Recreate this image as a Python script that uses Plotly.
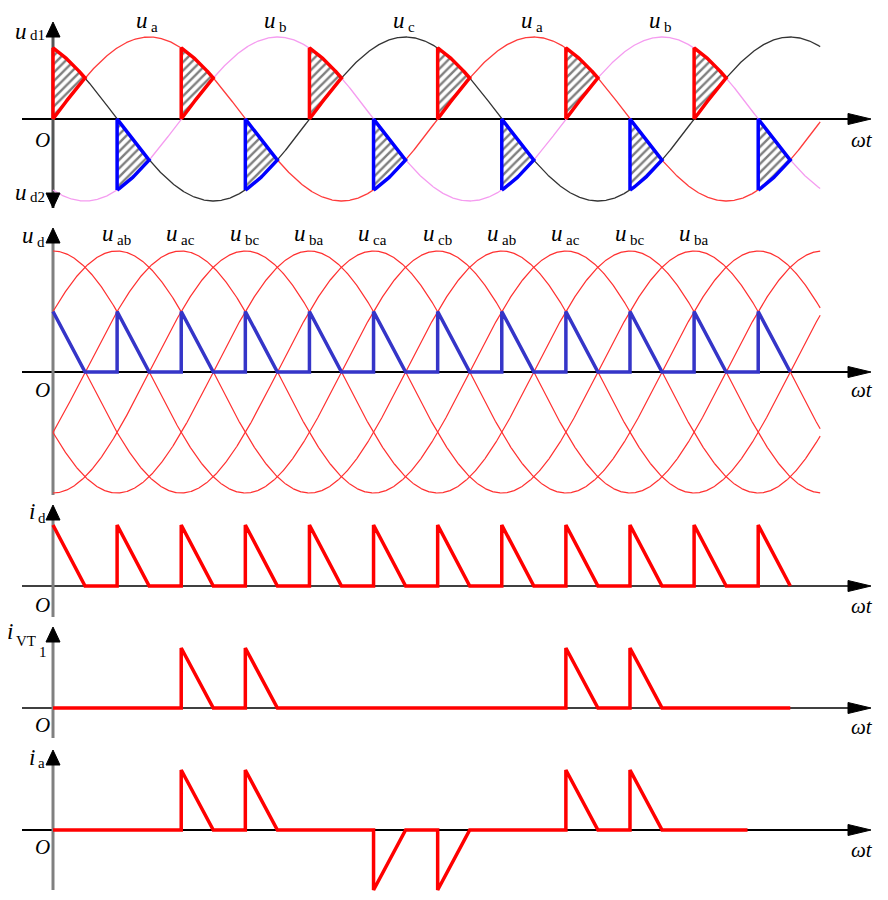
import numpy as np
import plotly.graph_objects as go

# ---------------- data ----------------
WT_START, WT_END = 0, 718           # degrees covered by the sine curves

# phase voltages (top panel):  u = sin(wt + offset)
phase_names = ["a", "b", "c"]
phase_offsets = [0, -120, 120]
top_label_names = ["a", "b", "c", "a", "b"]
top_label_wt = [90, 210, 330, 450, 570]

# hatched conduction areas in the top panel (30 degrees wide)
pos_area_start = [0, 120, 240, 360, 480, 600]
pos_area_upper = ["c", "a", "b", "c", "a", "b"]
pos_area_lower = ["a", "b", "c", "a", "b", "c"]
neg_area_start = [60, 180, 300, 420, 540, 660]
neg_area_upper = ["c", "a", "b", "c", "a", "b"]
neg_area_lower = ["b", "c", "a", "b", "c", "a"]
area_width = 30

# line voltages (second panel), normalised: u = sin(wt + 90 - peak)
line_names = ["ab", "ac", "bc", "ba", "ca", "cb"]
line_peaks = [60, 120, 180, 240, 300, 360]
mid_label_names = ["ab", "ac", "bc", "ba", "ca", "cb", "ab", "ac", "bc", "ba"]
mid_label_wt = [60, 120, 180, 240, 300, 360, 420, 480, 540, 600]

# output voltage u_d (relative to line-voltage amplitude)
ud_wt = [0, 30, 60, 60, 90, 120, 120, 150, 180, 180, 210, 240, 240, 270, 300, 300,
         330, 360, 360, 390, 420, 420, 450, 480, 480, 510, 540, 540, 570, 600, 600,
         630, 660, 660, 690]
ud_val = [0.5, 0, 0, 0.5, 0, 0, 0.5, 0, 0, 0.5, 0, 0, 0.5, 0, 0, 0.5,
          0, 0, 0.5, 0, 0, 0.5, 0, 0, 0.5, 0, 0, 0.5, 0, 0, 0.5,
          0, 0, 0.5, 0]

# load current i_d
id_wt = ud_wt
id_val = [1, 0, 0, 1, 0, 0, 1, 0, 0, 1, 0, 0, 1, 0, 0, 1,
          0, 0, 1, 0, 0, 1, 0, 0, 1, 0, 0, 1, 0, 0, 1,
          0, 0, 1, 0]

# thyristor current i_VT1
ivt_wt = [0, 120, 120, 150, 180, 180, 210, 480, 480, 510, 540, 540, 570, 690]
ivt_val = [0, 0, 1, 0, 0, 1, 0, 0, 1, 0, 0, 1, 0, 0]

# phase current i_a
ia_wt = [0, 120, 120, 150, 180, 180, 210, 300, 300, 330, 360, 360, 390,
         480, 480, 510, 540, 540, 570, 650]
ia_val = [0, 0, 1, 0, 0, 1, 0, 0, -1, 0, 0, -1, 0,
          0, 1, 0, 0, 1, 0, 0]

# ---------------- geometry / style ----------------
OFF = 8                   # page body margin
W, H = 888 - OFF, 900 - OFF
K = 1.0685                # px per degree
X0 = 53                   # screen pixel of wt = 0

def px_wt(px):
    return (px - X0) / K

# panels in screen px: (top, bottom, zero line, px per unit)
panels = [(8, 218, 119, 82), (218, 498, 372, 121), (498, 620, 586, 61),
          (620, 742, 708, 60), (742, 900, 830, 60)]

def px_val(i, py):
    t, b, z, s = panels[i]
    return (z - py) / s

def yp(py):
    return 1 - (py - OFF) / H

def xp(px):
    return (px - OFF) / W

phase_colors = {"a": "#ff3b3b", "b": "#f59cf0", "c": "#333333"}
SERIF = "Liberation Serif, Times New Roman, serif"

fig = go.Figure()
wt = np.linspace(WT_START, WT_END, 1437)
rad = np.pi / 180

def phase(name, x):
    return np.sin((np.asarray(x) + phase_offsets[phase_names.index(name)]) * rad)

# top panel sines
for n in phase_names:
    fig.add_trace(go.Scatter(x=wt, y=phase(n, wt), mode="lines",
                             line=dict(color=phase_colors[n], width=1.3), yaxis="y"))

def area(start, up, lo, color):
    xs = np.linspace(start, start + area_width, 40)
    px = np.concatenate([[start], xs, xs[::-1]])
    py = np.concatenate([[phase(lo, start)], phase(up, xs), phase(lo, xs[::-1])])
    fig.add_trace(go.Scatter(x=px, y=py, mode="lines", fill="toself",
                             fillcolor="white",
                             fillpattern=dict(shape="/", size=6, solidity=0.4,
                                              fgcolor="black", bgcolor="white"),
                             line=dict(color=color, width=3.5), yaxis="y"))

for s, u, l in zip(pos_area_start, pos_area_upper, pos_area_lower):
    area(s, u, l, "#ff0000")
for s, u, l in zip(neg_area_start, neg_area_upper, neg_area_lower):
    area(s, u, l, "#0000ff")

# second panel
for n, p in zip(line_names, line_peaks):
    fig.add_trace(go.Scatter(x=wt, y=np.sin((wt + 90 - p) * rad), mode="lines",
                             line=dict(color="#ff3030", width=1.2), yaxis="y2"))
fig.add_trace(go.Scatter(x=ud_wt, y=ud_val, mode="lines",
                         line=dict(color="#3535c8", width=3.5), yaxis="y2"))

fig.add_trace(go.Scatter(x=id_wt, y=id_val, mode="lines",
                         line=dict(color="#ff0000", width=3.5), yaxis="y3"))
fig.add_trace(go.Scatter(x=ivt_wt, y=ivt_val, mode="lines",
                         line=dict(color="#ff0000", width=3.5), yaxis="y4"))
fig.add_trace(go.Scatter(x=ia_wt, y=ia_val, mode="lines",
                         line=dict(color="#ff0000", width=3.5), yaxis="y5"))

# ---------------- axes decorations ----------------
shapes = []
vert_extent = [(22, 208), (228, 495), (505, 617), (627, 738), (750, 890)]
hwidth = [2, 2, 1.6, 1.6, 2]
for i in range(5):
    yref = "y" if i == 0 else f"y{i+1}"
    shapes.append(dict(type="line", xref="x", yref=yref, x0=px_wt(22), x1=px_wt(850),
                       y0=0, y1=0, line=dict(color="black", width=hwidth[i]),
                       layer="below"))
    shapes.append(dict(type="path", xref="x", yref=yref, xsizemode="pixel",
                       ysizemode="pixel", xanchor=px_wt(871), yanchor=0,
                       path="M0,0 L-23,5.5 L-23,-5.5 Z", fillcolor="black",
                       line=dict(color="black", width=1)))
    t, b = vert_extent[i]
    shapes.append(dict(type="line", xref="x", yref=yref, x0=0, x1=0,
                       y0=px_val(i, b), y1=px_val(i, t + 8),
                       line=dict(color="#555555" if i == 0 else "#808080", width=3),
                       layer="below"))
    shapes.append(dict(type="path", xref="x", yref=yref, xsizemode="pixel",
                       ysizemode="pixel", xanchor=0, yanchor=px_val(i, t),
                       path="M0,0 L-7,-15 L7,-15 Z", fillcolor="black",
                       line=dict(color="black", width=1)))
    if i == 0:
        shapes.append(dict(type="path", xref="x", yref=yref, xsizemode="pixel",
                           ysizemode="pixel", xanchor=0, yanchor=px_val(i, b),
                           path="M0,0 L-7,15 L7,15 Z", fillcolor="black",
                           line=dict(color="black", width=1)))

# ---------------- text ----------------
ann = []
MAIN, SUB = 23, 15

def put(x, xref, py, s, size, anchor="center", xshift=0):
    ann.append(dict(x=x, y=yp(py), xref=xref, yref="paper", text=s, showarrow=False,
                    font=dict(family=SERIF, size=size, color="black"),
                    xanchor=anchor, yanchor="middle", xshift=xshift, borderpad=0))

def sublabel(x, xref, py, main, sub, sub_dy=6):
    # main glyph ends at x, subscript starts right after it
    put(x, xref, py, f"<i>{main}</i>", MAIN, "right", 0)
    put(x, xref, py + sub_dy, sub, SUB, "left", 1)

for n, x in zip(top_label_names, top_label_wt):
    sublabel(x, "x", 21, "u", n)
for n, x in zip(mid_label_names, mid_label_wt):
    sublabel(x - 2, "x", 234, "u", n)

sublabel(xp(28), "paper", 31, "u", "d1", sub_dy=4)
sublabel(xp(28), "paper", 192, "u", "d2", sub_dy=5)
sublabel(xp(35), "paper", 235, "u", "d", sub_dy=7)
sublabel(xp(36), "paper", 511, "i", "d", sub_dy=7)
sublabel(xp(36), "paper", 757, "i", "a", sub_dy=6)
put(xp(10), "paper", 631, "<i>i</i>", MAIN)
put(xp(26), "paper", 641, "VT", SUB)
put(xp(43), "paper", 652, "1", SUB)
for py in [140, 390, 605, 725, 847]:
    put(xp(42), "paper", py, "<i>O</i>", 21)
for py in [140, 390, 606, 727, 850]:
    put(xp(862), "paper", py, "<i>ωt</i>", 21)

layout = dict(width=W, height=H, margin=dict(l=0, r=0, t=0, b=0), autosize=False,
              paper_bgcolor="white", plot_bgcolor="white", showlegend=False,
              xaxis=dict(range=[px_wt(OFF), px_wt(888)], visible=False, domain=[0, 1]),
              shapes=shapes, annotations=ann)
for i, (t, b, z, s) in enumerate(panels):
    key = "yaxis" if i == 0 else f"yaxis{i+1}"
    layout[key] = dict(domain=[yp(b), yp(t)], range=[(z - b) / s, (z - t) / s],
                       visible=False, anchor="x", fixedrange=True)
fig.update_layout(**layout)
fig.write_html("out.html")
